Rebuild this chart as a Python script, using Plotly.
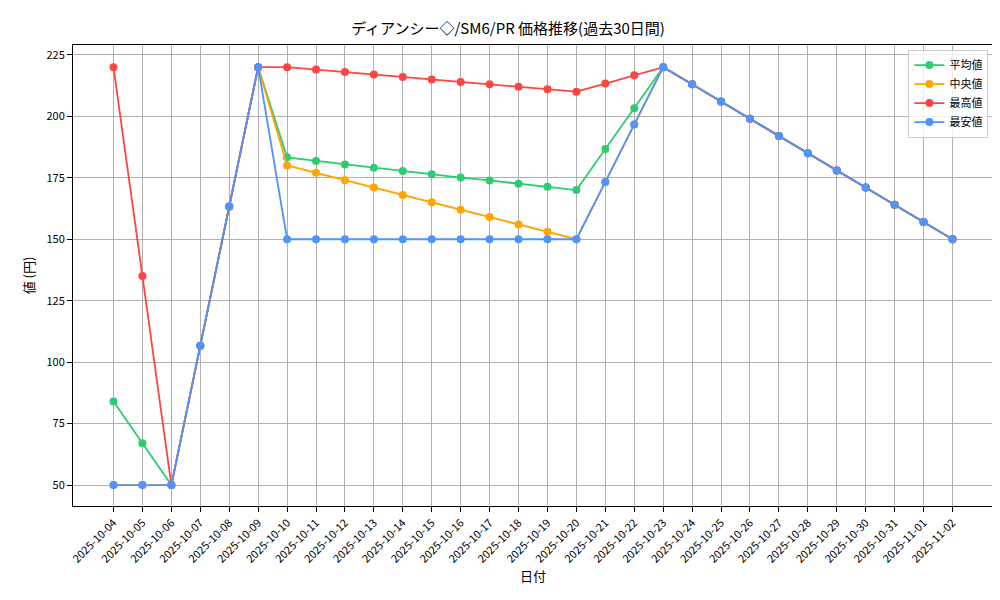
import plotly.graph_objects as go
import pandas as pd

dates = [d.strftime("%Y-%m-%d") for d in pd.date_range("2025-10-04", "2025-11-02")]
tail = [213, 206, 199, 192, 185, 178, 171, 164, 157, 150]
ramp = [106.7, 163.3, 220]

mean_vals = [84, 67, 50] + ramp + [183.3, 181.8, 180.4, 179.1, 177.8, 176.4, 175.1, 173.9, 172.6, 171.3, 170.0,
                                   186.7, 203.3, 220] + tail
median_vals = [50, 50, 50] + ramp + [180, 177, 174, 171, 168, 165, 162, 159, 156, 153, 150,
                                     173.3, 196.7, 220] + tail
max_vals = [220, 135, 50] + ramp + [220, 219, 218, 217, 216, 215, 214, 213, 212, 211, 210,
                                    213.3, 216.7, 220] + tail
min_vals = [50, 50, 50] + ramp + [150] * 11 + [173.3, 196.7, 220] + tail

series = [("平均値", mean_vals, "#2ecc71"), ("中央値", median_vals, "#ffa500"),
          ("最高値", max_vals, "#ff4444"), ("最安値", min_vals, "#4d94ff")]

fig = go.Figure()
for name, vals, color in series:
    fig.add_trace(go.Scatter(x=dates, y=vals, name=name, mode="lines+markers",
                             line=dict(color=color, width=1.8), marker=dict(color=color, size=8)))

axis = dict(showgrid=True, gridcolor="#b0b0b0", gridwidth=1, showline=True, linecolor="black",
            mirror=True, ticks="outside", tickcolor="black", zeroline=False)
fig.update_layout(
    width=1000, height=600, template="none",
    font=dict(family="Noto Sans CJK JP", size=11, color="black"),
    title=dict(text="ディアンシー◇/SM6/PR 価格推移(過去30日間)", x=0.5, y=0.975, font=dict(size=15)),
    margin=dict(l=65, r=15, t=37, b=102),
    xaxis=dict(axis, type="category", title=dict(text="日付", standoff=5), tickangle=-45, range=[-1.4, 30.4]),
    yaxis=dict(axis, title=dict(text="値 (円)", standoff=8), range=[41.5, 229], tickvals=[50, 75, 100, 125, 150, 175, 200, 225]),
    legend=dict(x=0.995, y=0.99, xanchor="right", yanchor="top", bordercolor="#cccccc", borderwidth=1,
                bgcolor="rgba(255,255,255,0.8)"),
)
fig.write_html("out.html")
